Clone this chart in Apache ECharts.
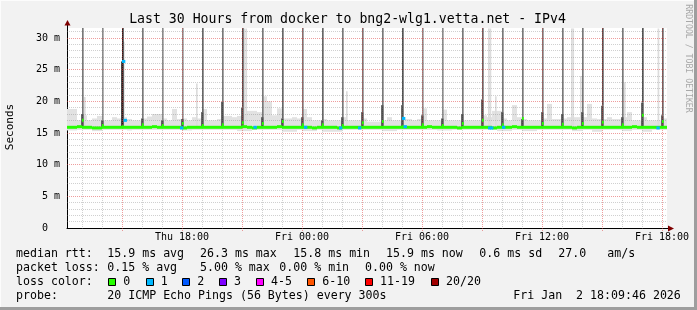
<!DOCTYPE html>
<html><head><meta charset="utf-8">
<script src="https://cdn.jsdelivr.net/npm/echarts@6/dist/echarts.min.js"></script>
<style>html,body{margin:0;padding:0;background:#f2f2f2}#c{width:697px;height:310px}</style>
</head><body><div id="c"></div>
<script>
// ---------------- data ----------------
const titleText = 'Last 30 Hours from docker to bng2-wlg1.vetta.net - IPv4';
const xMin = -5.75, xMax = 24.25;          // hours relative to Thu 18:00
const yMax = 31.58;                        // milliseconds
const stepHours = 0.25;                    // resolution of the arrays below
const tickHours = [0, 6, 12, 18, 24];
const tickLabels = ['Thu 18:00', 'Fri 00:00', 'Fri 06:00', 'Fri 12:00', 'Fri 18:00'];
const yTicks = [0, 5, 10, 15, 20, 25, 30];
const gridHours = [-5,-4,-3,-2,-1,0,1,2,3,4,5,6,7,8,9,10,11,12,13,14,15,16,17,18,19,20,21,22,23,24];
const majorGridHours = [-3,0,3,6,9,12,15,18,21,24];
const gridMs = [1,2,3,4,5,6,7,8,9,10,11,12,13,14,15,16,17,18,19,20,21,22,23,24,25,26,27,28,29,30,31];

// median rtt (ms) every 15 min from the start of the graph
const median = [
 15.9,15.9,16.0,15.9,15.9,15.8,15.8,15.9,15.9,15.9,
 15.9,15.9,15.9,15.9,15.9,15.9,15.9,16.0,15.9,15.9,
 15.9,15.9,15.9,15.8,15.9,15.9,15.9,15.9,15.9,15.9,
 15.9,15.9,15.9,15.9,15.9,16.0,15.9,15.8,15.9,15.9,
 15.9,15.9,16.0,15.9,15.9,15.9,15.9,15.9,15.9,15.8,
 15.9,15.9,15.9,15.9,15.8,15.9,15.9,15.9,15.9,15.9,
 15.9,15.9,15.9,15.9,15.9,15.9,15.9,15.9,15.9,15.9,
 15.9,15.9,16.0,15.9,15.9,15.9,15.9,15.9,15.8,15.9,
 15.9,15.9,15.9,15.9,15.9,15.8,15.9,15.9,15.9,16.0,
 15.9,15.9,15.9,15.9,15.9,15.9,15.9,15.9,15.9,15.9,
 15.9,15.8,15.9,15.9,15.9,15.9,15.9,15.9,15.9,15.9,
 15.9,15.9,15.9,16.0,15.9,15.9,15.9,15.9,15.9,15.9];
// smoke envelope (ms) every 15 min
const smokeLo = [
 15.4,15.4,15.5,15.5,15.5,15.3,15.3,15.5,15.5,15.5,
 15.5,15.5,15.4,15.5,15.5,15.5,15.5,15.5,15.5,15.5,
 15.5,15.5,15.5,15.4,15.4,15.5,15.5,15.5,15.5,15.5,
 15.5,15.5,15.5,15.5,15.3,15.3,15.3,15.5,15.5,15.5,
 15.5,15.5,15.5,15.2,15.2,15.2,15.5,15.3,15.3,15.3,
 15.5,15.2,15.2,15.2,15.2,15.5,15.5,15.5,15.5,15.5,
 15.5,15.5,15.5,15.3,15.3,15.3,15.5,15.5,15.5,15.5,
 15.5,15.5,15.5,15.5,15.4,15.4,15.4,15.5,15.5,15.5,
 15.5,15.5,15.5,15.5,15.5,15.5,15.3,15.3,15.3,15.5,
 15.5,15.3,15.3,15.3,15.5,15.5,15.5,15.5,15.5,15.5,
 15.5,15.3,15.3,15.5,15.5,15.2,15.2,15.5,15.5,15.5,
 15.5,15.3,15.3,15.5,15.5,15.2,15.2,15.5,15.5,15.5];
const smokeHi = [
 18.8,18.8,17.0,17.8,17.0,17.3,17.7,17.0,17.0,17.5,
 17.3,17.5,17.2,17.0,17.0,17.3,17.6,18.0,18.0,17.3,
 17.0,18.8,17.2,17.3,17.0,17.5,17.3,18.8,17.0,17.0,
 17.2,17.7,17.7,17.5,17.7,18.0,18.5,18.5,18.3,20.8,
 20.0,17.8,18.9,17.3,17.3,17.5,17.3,18.8,17.5,17.0,
 17.0,17.2,17.0,17.0,17.0,17.5,17.0,17.0,17.0,17.3,
 16.8,16.8,16.8,17.0,17.5,17.0,17.0,17.2,17.2,17.0,
 17.2,18.9,17.0,17.0,17.0,18.7,17.0,17.0,17.0,17.0,
 17.0,17.0,17.0,17.8,17.5,18.5,18.5,17.3,17.0,19.4,
 17.5,17.2,17.0,17.0,17.0,17.3,19.6,17.2,17.2,17.3,
 17.5,17.5,17.5,17.5,19.6,17.3,17.2,17.2,17.5,17.2,
 17.2,17.5,18.3,17.0,17.0,17.5,17.0,17.0,17.0,17.3];
// single 5-minute smoke columns that stand out (hour, top ms)
const tallHours = [-4.9, -2.95, 0.7, 3.08, 3.17, 8.2, 15.3, 15.38, 15.65, 19.45, 19.52, 19.9, 22.1, 23.78];
const tallTop   = [20.7, 29.4, 22.8, 31.5, 31.5, 21.6, 31.5, 31.5, 20.8, 31.5, 31.5, 24.0, 23.0, 31.5];
// hourly spikes: hour, top of dense part (ms), pings beyond the top, median of that step
const spikeHours = [-5,-4,-3,-2,-1,0,1,2,3,4,5,6,7,8,9,10,11,12,13,14,15,16,17,18,19,20,21,22,23,24];
const spikeCore  = [18.0,17.0,26.3,17.3,17.0,17.2,18.3,19.9,19.0,17.5,17.3,17.5,17.0,17.5,18.3,19.4,19.4,17.8,17.3,18.0,20.3,18.3,17.2,18.3,18.0,18.3,19.3,17.5,19.8,17.8];
const spikePings = [2,1,10,2,1,1,3,2,4,2,3,2,3,2,2,2,4,1,1,2,3,2,2,2,2,2,4,2,4,3];
const spikeMed   = [17.0,16.2,16.0,16.3,16.2,16.5,16.2,16.3,16.6,16.5,16.8,16.3,16.3,16.2,16.6,16.8,16.0,16.3,16.2,16.5,17.0,16.3,17.3,16.5,16.4,16.5,16.7,16.3,17.8,16.8];
// steps with packet loss: hour, median, lost pings
const lossHours  = [-3.0, -2.92, -0.1, 3.575, 6.1, 7.85, 8.8, 11.0, 11.08, 15.3, 15.4, 16.0, 23.72];
const lossMedian = [26.3, 17.0, 15.8, 15.9, 15.9, 15.8, 15.8, 17.3, 16.0, 15.8, 15.8, 15.9, 15.8];
const lossCount  = [1,1,1,1,1,1,1,1,1,1,1,1,1];
// legend
const lossLabels = ['0','1','2','3','4-5','6-10','11-19','20/20'];
const statLine1 = ['median rtt:', '15.9 ms avg', '26.3 ms max', '15.8 ms min', '15.9 ms now', '0.6 ms sd', '27.0', 'am/s'];
const statLine2 = ['packet loss:', '0.15 % avg', '5.00 % max', '0.00 % min', '0.00 % now'];
const lossTitle = 'loss color:';
const probeLine = ['probe:', '20 ICMP Echo Pings (56 Bytes) every 300s', 'Fri Jan  2 18:09:46 2026'];
const yLabel = 'Seconds';
const sideLabel = 'RRDTOOL / TOBI OETIKER';

// ---------------- styles ----------------
const mono = '"DejaVu Sans Mono", monospace';
const lossColors = ['#26ff00','#00b8ff','#0059ff','#7e00ff','#ff00ff','#ff5500','#ff0000','#a10000'];
const smokeColor = '#e2e2e2';
const grayFor = n => { const g = Math.max(34, 165 - 22 * n); return 'rgb(' + g + ',' + g + ',' + g + ')'; };
const lossColorFor = n => n === 0 ? lossColors[0] : n === 1 ? lossColors[1] : n === 2 ? lossColors[2] : n === 3 ? lossColors[3] : n <= 5 ? lossColors[4] : n <= 10 ? lossColors[5] : n <= 19 ? lossColors[6] : lossColors[7];

function rect(api, t0, t1, v0, v1, fill) {
  const a = api.coord([t0, v1]), b = api.coord([t1, v0]);
  return { type: 'rect', shape: { x: a[0], y: a[1], width: b[0] - a[0], height: b[1] - a[1] }, style: { fill: fill } };
}
function hSeg(api, t0, t1, v, fill) {
  const a = api.coord([t0, v]), b = api.coord([t1, v]);
  return { type: 'rect', shape: { x: a[0], y: a[1] - 1.5, width: b[0] - a[0], height: 3 }, style: { fill: fill } };
}

const chart = echarts.init(document.getElementById('c'));

const graphics = [];
// frame
graphics.push({ type: 'rect', shape: { x: 0, y: 0, width: 697, height: 1 }, style: { fill: '#fcfcfc' }, silent: true });
graphics.push({ type: 'rect', shape: { x: 0, y: 0, width: 1, height: 310 }, style: { fill: '#fcfcfc' }, silent: true });
graphics.push({ type: 'rect', shape: { x: 0, y: 307, width: 697, height: 3 }, style: { fill: '#9e9e9e' }, silent: true });
graphics.push({ type: 'rect', shape: { x: 694, y: 0, width: 3, height: 310 }, style: { fill: '#9e9e9e' }, silent: true });
// title and side texts
graphics.push({ type: 'text', x: 347.5, y: 19.3, style: { text: titleText, font: '13.2px ' + mono, fill: '#000', align: 'center', verticalAlign: 'middle' } });
graphics.push({ type: 'text', x: 10.5, y: 127, rotation: Math.PI / 2, style: { text: yLabel, font: '11px ' + mono, fill: '#000', align: 'center', verticalAlign: 'middle' } });
graphics.push({ type: 'text', x: 688.5, y: 58.5, rotation: -Math.PI / 2, style: { text: sideLabel, font: '8.2px ' + mono, fill: '#a8a8a8', align: 'center', verticalAlign: 'middle' } });
// axis extensions and arrows
graphics.push({ type: 'line', z: 99, shape: { x1: 67.5, y1: 24, x2: 67.5, y2: 29 }, style: { stroke: '#000', lineWidth: 1 } });
graphics.push({ type: 'line', z: 99, shape: { x1: 666, y1: 228.5, x2: 669, y2: 228.5 }, style: { stroke: '#000', lineWidth: 1 } });
graphics.push({ type: 'polygon', z: 100, shape: { points: [[668, 225.5], [674, 228.5], [668, 231.5]] }, style: { fill: '#7f0000' } });
graphics.push({ type: 'polygon', z: 100, shape: { points: [[64.5, 25.5], [67.5, 20], [70.5, 25.5]] }, style: { fill: '#7f0000' } });
// footer
const f = '11.6px ' + mono;
const l1x = [16, 107.3, 200, 293.3, 386, 479.3, 558.3, 607.3];
statLine1.forEach((s, i) => graphics.push({ type: 'text', x: l1x[i], y: 253.8, style: { text: s, font: f, fill: '#000', verticalAlign: 'middle' } }));
const l2x = [16, 107.3, 200, 279.3, 365];
statLine2.forEach((s, i) => graphics.push({ type: 'text', x: l2x[i], y: 268.2, style: { text: s, font: f, fill: '#000', verticalAlign: 'middle' } }));
graphics.push({ type: 'text', x: 16, y: 282.2, style: { text: lossTitle, font: f, fill: '#000', verticalAlign: 'middle' } });
const boxX = [108.3, 145.7, 182.3, 219, 256, 307.3, 365, 431];
lossLabels.forEach((s, i) => {
  graphics.push({ type: 'rect', shape: { x: Math.round(boxX[i]) + 0.5, y: 278.5, width: 7, height: 7 }, style: { fill: lossColors[i], stroke: '#000', lineWidth: 1 } });
  graphics.push({ type: 'text', x: boxX[i] + 15, y: 282.2, style: { text: s, font: f, fill: '#000', verticalAlign: 'middle' } });
});
const l4x = [16, 107.3, 513.3];
probeLine.forEach((s, i) => graphics.push({ type: 'text', x: l4x[i], y: 295.8, style: { text: s, font: f, fill: '#000', verticalAlign: 'middle' } }));

const option = {
  animation: false,
  backgroundColor: '#f2f2f2',
  grid: { left: 67, top: 28, width: 600, height: 200, show: true, backgroundColor: '#ffffff', borderWidth: 0 },
  xAxis: {
    type: 'value', min: xMin, max: xMax,
    axisLine: { show: true, onZero: false, lineStyle: { color: '#000', width: 1 } },
    axisTick: { show: false }, splitLine: { show: false },
    axisLabel: { customValues: tickHours, formatter: v => { const k = tickHours.indexOf(v); return k >= 0 ? tickLabels[k] : ''; },
      color: '#000', fontFamily: mono, fontSize: 10, margin: 4 }
  },
  yAxis: {
    type: 'value', min: 0, max: yMax,
    axisLine: { show: true, onZero: false, lineStyle: { color: '#000', width: 1 } },
    axisTick: { show: false }, splitLine: { show: false },
    axisLabel: { customValues: yTicks, formatter: v => v === 0 ? '0\u00a0\u00a0' : v + ' m',
      color: '#000', fontFamily: mono, fontSize: 10, margin: 7 }
  },
  graphic: graphics,
  series: [
    { // smoke
      type: 'custom', z: 2, silent: true, clip: true,
      data: smokeHi.map((hi, i) => [xMin + i * stepHours, smokeLo[i], hi]),
      renderItem: (p, api) => rect(api, api.value(0), api.value(0) + stepHours, api.value(1), api.value(2), smokeColor)
    },
    { // tall smoke columns
      type: 'custom', z: 2, silent: true, clip: true,
      data: tallHours.map((h, i) => [h, tallTop[i]]),
      renderItem: (p, api) => rect(api, api.value(0), api.value(0) + 1 / 12, 16, api.value(1), '#dcdcdc')
    },
    { // hourly spikes
      type: 'custom', z: 3, silent: true, clip: true,
      data: spikeHours.map((h, i) => [h, spikeCore[i], spikePings[i]]),
      renderItem: (p, api) => {
        const h = api.value(0), core = api.value(1), n = api.value(2);
        return { type: 'group', children: [
          rect(api, h, h + 1 / 12, core, yMax, grayFor(n)),
          rect(api, h - 1 / 24, h + 1 / 12, 15.9, core, n >= 8 ? '#222' : '#4a4a4a')
        ] };
      }
    },
    { // vertical grid
      type: 'custom', z: 4, silent: true, clip: false,
      data: gridHours.map(h => [h, 0]),
      renderItem: (p, api) => {
        const h = api.value(0), major = majorGridHours.indexOf(h) >= 0;
        const x = Math.floor(api.coord([h, 0])[0]) + 0.5;
        const yt = api.coord([h, yMax])[1], yb = api.coord([h, 0])[1] + (major ? 3 : 2);
        return { type: 'line', shape: { x1: x, y1: yt, x2: x, y2: yb },
          style: { stroke: major ? 'rgba(222,60,60,0.5)' : 'rgba(120,120,120,0.35)', lineWidth: 1, lineDash: [1, 1] } };
      }
    },
    { // horizontal grid
      type: 'custom', z: 4, silent: true, clip: false,
      data: gridMs.map(v => [xMin, v]),
      renderItem: (p, api) => {
        const v = api.value(1), major = v % 5 === 0;
        const y = Math.floor(api.coord([xMin, v])[1]) + 0.5;
        const x0 = api.coord([xMin, v])[0], x1 = api.coord([xMax, v])[0];
        return { type: 'line', shape: { x1: x0, y1: y, x2: x1, y2: y },
          style: { stroke: major ? 'rgba(222,60,60,0.5)' : 'rgba(120,120,120,0.35)', lineWidth: 1, lineDash: [1, 1] } };
      }
    },
    { // median
      type: 'custom', z: 5, silent: true, clip: true,
      data: median.map((v, i) => [xMin + i * stepHours, v]),
      renderItem: (p, api) => hSeg(api, api.value(0), api.value(0) + stepHours, api.value(1), lossColors[0])
    },
    { // median of the spike steps
      type: 'custom', z: 5, silent: true, clip: true,
      data: spikeHours.map((h, i) => [h, spikeMed[i]]),
      renderItem: (p, api) => hSeg(api, api.value(0), api.value(0) + 1 / 12, api.value(1), lossColors[0])
    },
    { // steps with loss
      type: 'custom', z: 6, silent: true, clip: true,
      data: lossHours.map((h, i) => [h, lossMedian[i], lossCount[i]]),
      renderItem: (p, api) => hSeg(api, api.value(0), api.value(0) + 1 / 6, api.value(1), lossColorFor(api.value(2)))
    }
  ]
};
chart.setOption(option);
</script>
</body></html>
